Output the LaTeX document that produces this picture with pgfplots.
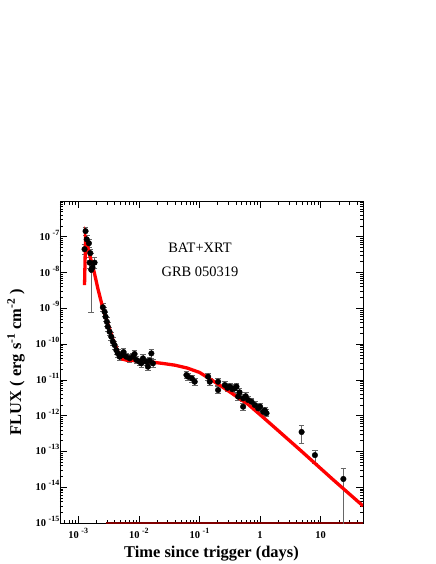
\documentclass[border=0pt]{standalone}
\usepackage{fontspec}
\setmainfont{Liberation Serif}
\usepackage{pgfplots}
\pgfplotsset{compat=1.18}
\usepackage{pgfplotstable}

% tick label "10 ^ exponent", bold text font
\newcommand{\tl}[1]{\textbf{\fontsize{10.5}{12}\selectfont 10\hspace{2.5bp}\raisebox{5bp}{\fontsize{8}{9}\selectfont #1}}}

% GRB 050319, BAT+XRT flux (ep/em = relative errors)
\pgfplotstableread{
x y ep em
1.32e-3 1.44e-7 0.32 0.22
1.27e-3 4.5e-8 0.35 0.3
1.38e-3 8.5e-8 0.3 0.25
1.50e-3 6.6e-8 0.3 0.25
1.58e-3 3.5e-8 0.3 0.25
1.54e-3 1.9e-8 0.4 0.3
1.64e-3 1.2e-8 1.95 0.937
1.86e-3 1.9e-8 0.4 0.3
1.72e-3 1.4e-8 0.3 0.25
2.55e-3 1.07e-9 0.3 0.23
2.72e-3 8.0e-10 0.3 0.23
2.83e-3 5.8e-10 0.3 0.23
2.97e-3 4.2e-10 0.3 0.23
3.08e-3 3.06e-10 0.3 0.23
3.29e-3 2.22e-10 0.3 0.23
3.51e-3 1.61e-10 0.3 0.23
3.73e-3 1.17e-10 0.3 0.23
3.98e-3 9.4e-11 0.3 0.23
4.25e-3 6.8e-11 0.3 0.23
4.51e-3 5.5e-11 0.3 0.23
4.82e-3 4.45e-11 0.3 0.23
5.46e-3 4.95e-11 0.26 0.2
5.6e-3 6.0e-11 0.26 0.2
6.21e-3 4.45e-11 0.26 0.2
7.05e-3 4.0e-11 0.26 0.2
7.98e-3 4.45e-11 0.26 0.2
8.5e-3 5.3e-11 0.26 0.2
9.1e-3 3.6e-11 0.26 0.2
1.03e-2 3.2e-11 0.26 0.2
1.10e-2 2.9e-11 0.26 0.2
1.17e-2 4.0e-11 0.26 0.2
1.33e-2 3.2e-11 0.26 0.2
1.41e-2 2.34e-11 0.26 0.2
1.51e-2 3.43e-11 0.26 0.2
1.61e-2 5.5e-11 0.3 0.25
1.71e-2 2.9e-11 0.26 0.2
0.061 1.37e-11 0.26 0.2
0.0649 1.23e-11 0.26 0.2
0.075 1.1e-11 0.26 0.2
0.0836 8.9e-12 0.26 0.2
0.139 1.23e-11 0.26 0.2
0.148 8.9e-12 0.26 0.2
0.203 8.9e-12 0.26 0.2
0.203 5.2e-12 0.26 0.2
0.262 7.2e-12 0.26 0.2
0.29 6.0e-12 0.26 0.2
0.317 6.5e-12 0.26 0.2
0.35 5.5e-12 0.26 0.2
0.383 5.8e-12 0.26 0.2
0.409 6.5e-12 0.26 0.2
0.435 3.4e-12 0.26 0.2
0.46 4.5e-12 0.26 0.2
0.526 3.06e-12 0.26 0.2
0.526 1.78e-12 0.26 0.2
0.58 3.5e-12 0.26 0.2
0.635 2.75e-12 0.26 0.2
0.724 2.46e-12 0.26 0.2
0.82 1.99e-12 0.26 0.2
0.931 1.61e-12 0.26 0.2
1.0 1.8e-12 0.26 0.2
1.125 1.29e-12 0.26 0.2
1.2 1.4e-12 0.26 0.2
1.28 1.17e-12 0.26 0.2
4.85 3.5e-13 0.51 0.51
8.05 7.9e-14 0.38 0.41
23.7 1.7e-14 1.0 0.999
}\grbdata

% model curve
\pgfplotstableread{
x y
1.27e-3 4.47e-9
1.32e-3 9.1e-8
1.54e-3 3.16e-8
1.84e-3 1.0e-8
2.11e-3 3.55e-9
2.55e-3 1.0e-9
3.73e-3 1.35e-10
4.82e-3 4.68e-11
5.37e-3 3.8e-11
6.31e-3 3.55e-11
1.03e-2 3.39e-11
0.01585 3.16e-11
0.0251 2.88e-11
0.0398 2.57e-11
0.0631 2.14e-11
0.1 1.62e-11
0.158 1.0e-11
0.251 6.03e-12
0.398 3.55e-12
0.631 2.09e-12
1.0 1.07e-12
2.0 3.8e-13
4.58 1.1e-13
16.1 1.62e-14
50 3.0e-15
}\grbfit

\begin{document}
\begin{tikzpicture}
\begin{axis}[
  scale only axis, width=303bp, height=322bp,
  xmode=log, ymode=log,
  xmin=5e-4, xmax=50, ymin=1e-15, ymax=1e-6,
  axis line style={line width=0.8bp},
  tick align=inside, tick style={black, line width=0.6bp},
  major tick length=7bp, minor tick length=3.5bp,
  xtick={1e-3,1e-2,1e-1,1,10},
  xticklabels={\tl{-3},\tl{-2},\tl{-1},\textbf{\fontsize{10.5}{12}\selectfont 1},\textbf{\fontsize{10.5}{12}\selectfont 10}},
  minor xtick={6e-4,7e-4,8e-4,9e-4,
    2e-3,3e-3,4e-3,5e-3,6e-3,7e-3,8e-3,9e-3,
    2e-2,3e-2,4e-2,5e-2,6e-2,7e-2,8e-2,9e-2,
    0.2,0.3,0.4,0.5,0.6,0.7,0.8,0.9,
    2,3,4,5,6,7,8,9,20,30,40},
  ytick={1e-15,1e-14,1e-13,1e-12,1e-11,1e-10,1e-9,1e-8,1e-7},
  yticklabels={\tl{-15},\tl{-14},\tl{-13},\tl{-12},\tl{-11},\tl{-10},\tl{-9},\tl{-8},\tl{-7}},
  minor ytick={2e-15,3e-15,4e-15,5e-15,6e-15,7e-15,8e-15,9e-15,
    2e-14,3e-14,4e-14,5e-14,6e-14,7e-14,8e-14,9e-14,
    2e-13,3e-13,4e-13,5e-13,6e-13,7e-13,8e-13,9e-13,
    2e-12,3e-12,4e-12,5e-12,6e-12,7e-12,8e-12,9e-12,
    2e-11,3e-11,4e-11,5e-11,6e-11,7e-11,8e-11,9e-11,
    2e-10,3e-10,4e-10,5e-10,6e-10,7e-10,8e-10,9e-10,
    2e-9,3e-9,4e-9,5e-9,6e-9,7e-9,8e-9,9e-9,
    2e-8,3e-8,4e-8,5e-8,6e-8,7e-8,8e-8,9e-8,
    2e-7,3e-7,4e-7,5e-7,6e-7,7e-7,8e-7,9e-7},
  yticklabel style={anchor=base east, inner sep=0pt, xshift=-0.5bp, yshift=-3.5bp},
  xticklabel style={anchor=base, inner sep=0pt, yshift=-15bp},
  xlabel={Time since trigger (days)},
  ylabel={FLUX ( erg s\textsuperscript{-1} cm\textsuperscript{-2} )},
  every axis x label/.style={at={(rel axis cs:0.5,0)}, anchor=base, yshift=-34bp,
    font=\fontsize{16.5}{18}\selectfont\bfseries},
  every axis y label/.style={at={(rel axis cs:0,0.5)}, xshift=-44bp, rotate=90, anchor=center,
    font=\fontsize{16.5}{18}\selectfont\bfseries},
]
\addplot[draw=red!50!black, line width=2bp, forget plot] coordinates {(2.9e-3,1e-15) (50,1e-15)};
\addplot[only marks, mark=*, mark size=2.8bp, black,
  error bars/.cd, y dir=both, y explicit relative,
  error bar style={gray!80!black, line width=0.7bp},
  error mark options={rotate=90, mark size=2.8bp, gray!80!black, line width=0.6bp}]
  table[x=x, y=y, y error plus=ep, y error minus=em] {\grbdata};
\addplot[draw=red, line width=3.3bp, no marks] table[x=x, y=y] {\grbfit};
\node[font=\fontsize{14.5}{16}\selectfont, anchor=base] at (rel axis cs:0.462,0.839) {BAT+XRT};
\node[font=\fontsize{14.5}{16}\selectfont, anchor=base] at (rel axis cs:0.462,0.764) {GRB 050319};
\end{axis}
\path (-60bp,-41bp) rectangle (376bp,523bp);
\end{tikzpicture}
\end{document}
